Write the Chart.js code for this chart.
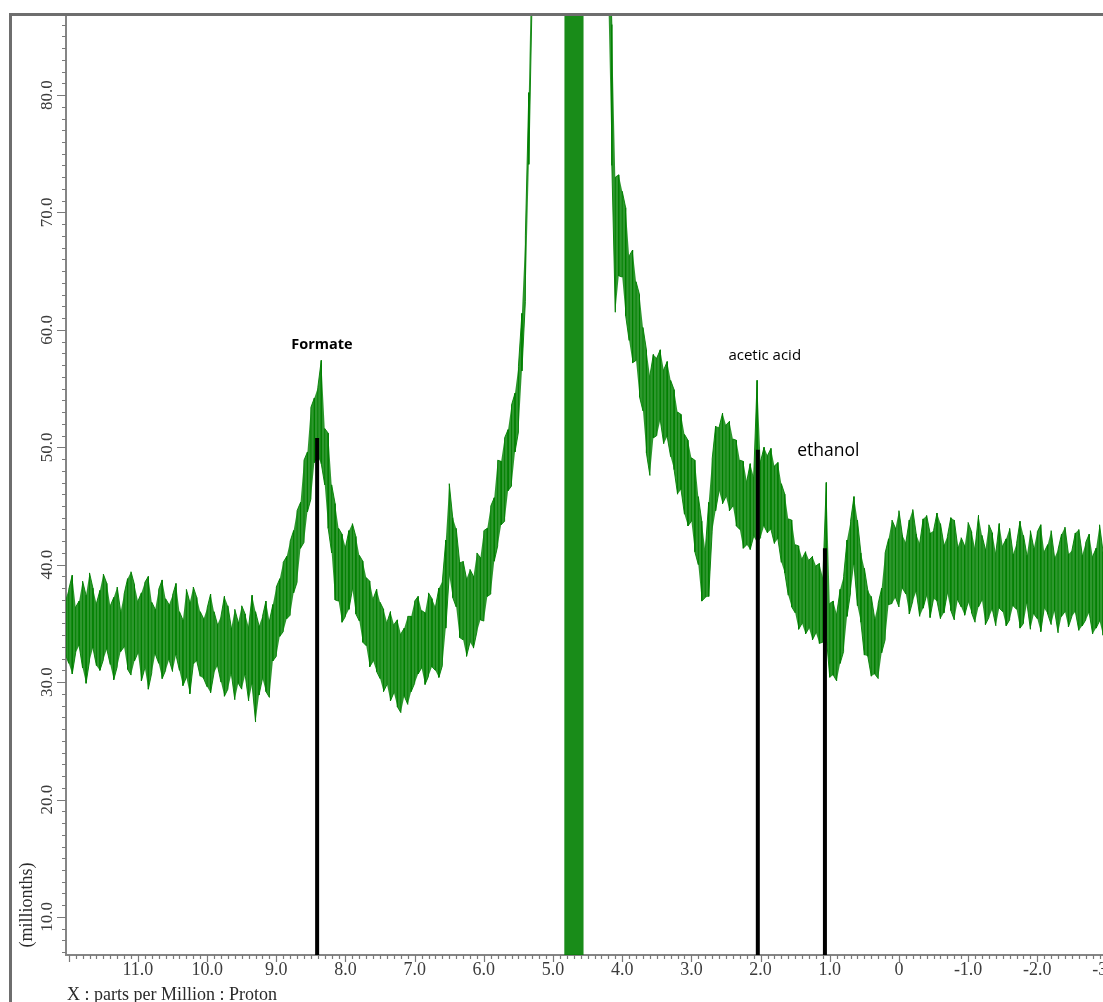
<!DOCTYPE html>
<html>
<head>
<meta charset="utf-8">
<script src="https://cdn.jsdelivr.net/npm/chart.js@4.4.1/dist/chart.umd.min.js"></script>
<style>
  html, body { margin: 0; padding: 0; background: #fff; overflow: hidden; }
  #wrap { position: relative; width: 1148px; height: 1002px; }
</style>
</head>
<body>
<div id="wrap"><canvas id="spectrum"></canvas></div>
<script>
// 1H trace binned every 0.05 ppm from 12.05 down to -3.60:
// highest and lowest reading in each bin (noise envelope)
var ppmStart = 12.05;
var ppmStep = 0.05;
var traceHigh = [
  37.0, 37.9, 39.1, 36.4, 36.9, 38.6, 37.4, 39.3, 38.0, 36.7,   // 12.05 .. 11.60
  37.8, 39.2, 38.4, 36.5, 37.2, 38.1, 36.0, 37.5, 38.8, 39.4,   // 11.55 .. 11.10
  38.3, 36.9, 37.6, 38.5, 39.0, 36.8, 36.2, 37.9, 38.7, 37.1,   // 11.05 .. 10.60
  36.6, 37.4, 38.4, 36.0, 35.3, 37.9, 36.8, 38.1, 37.2, 36.0,   // 10.55 .. 10.10
  35.4, 36.3, 37.5, 36.0, 34.9, 35.6, 37.3, 36.5, 34.6, 36.2,   // 10.05 .. 9.60
  35.1, 36.5, 35.8, 34.7, 37.4, 36.0, 34.8, 35.6, 36.9, 35.2,   // 9.55 .. 9.10
  36.6, 38.1, 38.8, 40.2, 40.7, 42.0, 42.9, 44.6, 45.3, 48.9,   // 9.05 .. 8.60
  49.6, 53.4, 54.2, 55.1, 57.4, 51.6, 51.2, 46.8, 45.2, 43.1,   // 8.55 .. 8.10
  42.6, 41.5, 42.9, 43.5, 42.4, 40.8, 40.3, 38.9, 38.6, 37.1,   // 8.05 .. 7.60
  37.9, 36.8, 36.2, 35.1, 36.0, 34.9, 35.3, 34.1, 34.6, 35.6,   // 7.55 .. 7.10
  35.6, 36.9, 37.3, 36.1, 35.9, 37.6, 37.1, 36.4, 38.0, 38.6,   // 7.05 .. 6.60
  42.1, 46.9, 44.0, 43.1, 40.2, 40.3, 38.8, 39.6, 39.0, 41.0,   // 6.55 .. 6.10
  40.6, 42.9, 43.1, 45.0, 45.7, 48.9, 48.8, 50.8, 51.5, 53.6,   // 6.05 .. 5.60
  54.6, 56.9, 61.4, 68.0, 80.2, 95, 118, 155, 205, 265,         // 5.55 .. 5.10
  330, 410, 490, 530, 570, 590, 570, 530, 490, 430,             // 5.05 .. 4.60
  370, 310, 250, 200, 160, 130, 110, 96, 86.0, 73.0,            // 4.55 .. 4.10
  73.2, 71.8, 70.4, 66.3, 66.8, 64.1, 63.0, 60.2, 58.3, 56.1,   // 4.05 .. 3.60
  57.9, 57.6, 58.3, 56.6, 57.3, 55.7, 54.9, 53.0, 52.8, 51.1,   // 3.55 .. 3.10
  50.6, 49.1, 48.9, 45.8, 43.7, 41.2, 45.3, 49.0, 51.8, 51.7,   // 3.05 .. 2.60
  52.9, 51.9, 52.2, 50.7, 50.6, 48.9, 48.8, 47.1, 48.6, 47.5,   // 2.55 .. 2.10
  55.7, 48.8, 50.0, 49.3, 49.9, 48.4, 48.7, 46.9, 46.0, 43.9,   // 2.05 .. 1.60
  43.8, 41.7, 41.6, 40.5, 41.1, 40.4, 40.7, 39.9, 40.1, 38.9,   // 1.55 .. 1.10
  47.0, 36.7, 36.9, 35.8, 37.9, 39.0, 42.1, 43.7, 45.8, 43.8,   // 1.05 .. 0.60
  41.0, 39.7, 37.8, 37.3, 35.4, 36.7, 38.0, 41.0, 42.2, 43.8,   // 0.55 .. 0.10
  43.1, 44.6, 42.5, 41.9, 43.8, 44.7, 42.6, 41.8, 43.9, 44.2,   // 0.05 .. -0.40
  42.7, 42.9, 44.4, 43.5, 41.7, 42.4, 44.0, 43.8, 41.5, 42.3,   // -0.45 .. -0.90
  41.6, 43.6, 42.8, 41.4, 44.2, 42.5, 41.3, 43.4, 42.7, 41.0,   // -0.95 .. -1.40
  43.5, 41.6, 42.2, 43.1, 40.9, 41.8, 43.7, 42.5, 40.8, 42.9,   // -1.45 .. -1.90
  41.4, 42.8, 43.4, 41.1, 41.7, 42.9, 40.6, 41.3, 42.6, 43.2,   // -1.95 .. -2.40
  40.9, 41.2, 42.7, 43.0, 40.8, 41.9, 42.6, 40.7, 41.4, 43.4,   // -2.45 .. -2.90
  41.1, 42.4, 43.2, 40.9, 41.5, 42.0, 43.0, 40.6, 41.7, 42.3,   // -2.95 .. -3.40
  41.0, 42.5, 41.2, 43.1                                        // -3.45 .. -3.60
];
var traceLow = [
  32.4, 31.6, 30.7, 32.5, 33.1, 31.2, 29.9, 31.8, 32.9, 31.4,   // 12.05 .. 11.60
  31.0, 31.9, 32.8, 31.5, 30.2, 31.3, 32.6, 33.0, 31.1, 30.6,   // 11.55 .. 11.10
  31.8, 32.5, 30.1, 31.2, 29.4, 30.8, 32.4, 31.6, 30.3, 31.0,   // 11.05 .. 10.60
  31.9, 30.9, 32.3, 31.0, 29.7, 30.4, 29.0, 31.5, 31.8, 30.5,   // 10.55 .. 10.10
  30.3, 29.6, 29.1, 30.8, 31.4, 30.0, 28.8, 29.4, 30.7, 28.5,   // 10.05 .. 9.60
  29.9, 29.4, 30.6, 28.4, 29.8, 26.6, 28.9, 30.3, 29.2, 28.7,   // 9.55 .. 9.10
  31.8, 32.2, 33.9, 34.3, 35.4, 35.7, 37.6, 38.5, 41.4, 41.9,   // 9.05 .. 8.60
  44.5, 45.6, 48.7, 49.2, 48.6, 46.8, 43.1, 41.0, 37.0, 36.9,   // 8.55 .. 8.10
  35.1, 35.6, 36.2, 37.9, 35.8, 35.2, 33.4, 33.1, 31.3, 31.8,   // 8.05 .. 7.60
  30.9, 30.3, 29.2, 29.8, 28.4, 29.1, 27.9, 27.4, 28.8, 28.1,   // 7.55 .. 7.10
  29.2, 29.9, 30.7, 31.2, 29.8, 30.5, 31.3, 31.0, 30.4, 31.4,   // 7.05 .. 6.60
  34.6, 39.1, 37.2, 36.4, 33.8, 33.6, 32.2, 33.4, 32.9, 34.3,   // 6.55 .. 6.10
  35.3, 35.2, 37.3, 37.5, 40.3, 41.6, 43.4, 43.7, 46.3, 46.7,   // 6.05 .. 5.60
  49.6, 51.3, 56.5, 62.4, 74.1, 89, 112, 145, 195, 255,         // 5.55 .. 5.10
  310, 390, 470, 510, 550, 570, 550, 510, 470, 410,             // 5.05 .. 4.60
  350, 290, 230, 180, 140, 120, 100, 88, 74.0, 61.5,            // 4.55 .. 4.10
  64.6, 64.5, 61.2, 59.1, 57.2, 57.4, 54.3, 53.1, 49.5, 47.6,   // 4.05 .. 3.60
  50.8, 51.0, 52.3, 50.3, 50.9, 49.2, 48.1, 46.0, 46.4, 44.3,   // 3.55 .. 3.10
  43.3, 43.7, 41.1, 40.0, 36.9, 37.2, 37.3, 42.8, 44.6, 46.3,   // 3.05 .. 2.60
  45.2, 45.8, 44.6, 45.0, 43.3, 43.0, 41.4, 41.7, 41.3, 42.4,   // 2.55 .. 2.10
  41.9, 42.3, 43.3, 42.7, 43.0, 41.8, 42.2, 40.2, 39.3, 37.4,   // 2.05 .. 1.60
  36.4, 35.9, 34.5, 35.0, 34.1, 34.6, 33.6, 34.2, 33.3, 33.4,   // 1.55 .. 1.10
  33.9, 30.4, 30.6, 30.1, 31.6, 32.6, 35.6, 37.6, 40.0, 36.5,   // 1.05 .. 0.60
  35.1, 32.3, 32.2, 30.5, 30.7, 30.3, 32.5, 33.6, 36.6, 36.7,   // 0.55 .. 0.10
  37.2, 36.4, 38.0, 37.5, 35.8, 36.9, 37.7, 35.6, 36.3, 37.4,   // 0.05 .. -0.40
  35.5, 37.1, 36.9, 35.4, 35.9, 37.6, 36.1, 35.3, 37.0, 36.4,   // -0.45 .. -0.90
  35.7, 36.8, 35.9, 35.1, 36.4, 37.0, 34.9, 35.5, 36.2, 34.8,   // -0.95 .. -1.40
  36.3, 36.0, 34.8, 35.3, 36.5, 36.2, 34.6, 35.0, 36.7, 34.5,   // -1.45 .. -1.90
  35.8, 35.4, 34.3, 36.3, 35.8, 34.9, 36.1, 34.2, 35.6, 36.0,   // -1.95 .. -2.40
  34.7, 35.6, 36.0, 34.4, 34.8, 35.3, 35.9, 34.1, 34.6, 35.2,   // -2.45 .. -2.90
  34.0, 34.9, 35.8, 36.1, 34.5, 35.0, 35.6, 34.3, 35.9, 34.7,   // -2.95 .. -3.40
  35.4, 35.3, 34.6, 35.8                                        // -3.45 .. -3.60
];

// water signal, saturated in both directions
var waterPpm = [4.83, 4.82, 4.81, 4.80, 4.79, 4.78, 4.77, 4.76, 4.75, 4.74, 4.73, 4.72, 4.71, 4.70,
                4.69, 4.68, 4.67, 4.66, 4.65, 4.64, 4.63, 4.62, 4.61, 4.60, 4.59, 4.58, 4.57];
var waterLevel = [-120, 240, -120, 240, -120, 240, -120, 240, -120, 240, -120, 240, -120, 240,
                  -120, 240, -120, 240, -120, 240, -120, 240, -120, 240, -120, 240, -120];

// assigned peaks
var markerNames = ['Formate', 'acetic acid', 'ethanol'];
var markerPpm = [8.41, 2.04, 1.07];
var markerTop = [50.8, 49.8, 41.4];

var xTickValues = [11, 10, 9, 8, 7, 6, 5, 4, 3, 2, 1, 0, -1, -2, -3];
var yTickValues = [10, 20, 30, 40, 50, 60, 70, 80];

var serif = '"Liberation Serif", "Times New Roman", serif';
var green = 'rgba(0, 128, 0, 0.9)';

function binPpm(i) { return +(ppmStart - i * ppmStep).toFixed(2); }

var highPoints = traceHigh.map(function (v, i) { return { x: binPpm(i), y: v }; });
var lowPoints = traceLow.map(function (v, i) { return { x: binPpm(i), y: v }; });
// min/max stroke through each bin, going down and up in turn
var strokePoints = [];
traceHigh.forEach(function (v, i) {
  var a = { x: binPpm(i), y: v }, b = { x: binPpm(i), y: traceLow[i] };
  if (i % 2 === 0) { strokePoints.push(a, b); } else { strokePoints.push(b, a); }
});
var waterPoints = waterPpm.map(function (p, i) { return { x: p, y: waterLevel[i] }; });

var datasets = markerPpm.map(function (p, i) {
  return {
    label: markerNames[i],
    data: [{ x: p, y: 0 }, { x: p, y: markerTop[i] }],
    borderColor: '#000',
    borderWidth: 4,
    borderCapStyle: 'butt',
    pointRadius: 0,
    order: 0
  };
});
datasets.push({
  label: 'water',
  data: waterPoints,
  borderColor: green,
  borderWidth: 1.5,
  pointRadius: 0,
  order: 1
});
datasets.push({
  label: 'bins',
  data: strokePoints,
  borderColor: 'rgba(0, 128, 0, 0.9)',
  borderWidth: 1,
  pointRadius: 0,
  order: 1
});
var highIndex = datasets.length;
datasets.push({
  label: 'high',
  data: highPoints,
  borderWidth: 0,
  pointRadius: 0,
  order: 2
});
datasets.push({
  label: 'low',
  data: lowPoints,
  backgroundColor: 'rgba(0, 128, 0, 0.82)',
  borderWidth: 0,
  pointRadius: 0,
  fill: highIndex,
  order: 2
});

// frame, minor ticks, rotated y labels, axis titles and peak names
var framePlugin = {
  id: 'frame',
  beforeDraw: function (c) {
    var ctx = c.ctx;
    ctx.save();
    ctx.fillStyle = '#fff';
    ctx.fillRect(0, 0, c.width, c.height);
    ctx.restore();
  },
  afterDraw: function (c) {
    var ctx = c.ctx, xs = c.scales.x, ys = c.scales.y, a = c.chartArea;
    ctx.save();

    // outer box
    ctx.strokeStyle = '#6e6e6e';
    ctx.lineWidth = 3;
    ctx.beginPath();
    ctx.moveTo(10.5, c.height);
    ctx.lineTo(10.5, 14.5);
    ctx.lineTo(c.width, 14.5);
    ctx.stroke();

    // ticks
    ctx.strokeStyle = '#7a7a7a';
    ctx.lineWidth = 1.2;
    ctx.beginPath();
    for (var k = -36; k <= 120; k++) {
      var px = Math.round(xs.getPixelForValue(k / 10)) + 0.5;
      var lx = (k % 10 === 0) ? 7 : 4;
      ctx.moveTo(px, a.bottom);
      ctx.lineTo(px, a.bottom + lx);
    }
    for (var m = 7; m <= 86; m++) {
      var py = Math.round(ys.getPixelForValue(m)) + 0.5;
      var ly = (m % 10 === 0) ? 9 : 4;
      ctx.moveTo(a.left - ly, py);
      ctx.lineTo(a.left, py);
    }
    ctx.stroke();

    // y tick labels, reading upwards
    ctx.fillStyle = '#3c3c3c';
    ctx.font = '17px ' + serif;
    ctx.textAlign = 'center';
    ctx.textBaseline = 'middle';
    ys.ticks.forEach(function (t) {
      ctx.save();
      ctx.translate(48, ys.getPixelForValue(t.value));
      ctx.rotate(-Math.PI / 2);
      ctx.fillText(t.value.toFixed(1), 0, 0);
      ctx.restore();
    });

    // axis titles
    ctx.fillStyle = '#2a2a2a';
    ctx.font = '18px ' + serif;
    ctx.save();
    ctx.translate(27, 905);
    ctx.rotate(-Math.PI / 2);
    ctx.fillText('(millionths)', 0, 0);
    ctx.restore();
    ctx.textAlign = 'left';
    ctx.textBaseline = 'alphabetic';
    ctx.fillText('X : parts per Million : Proton', 67, 1000);

    // peak names
    ctx.fillStyle = '#000';
    ctx.textBaseline = 'middle';
    ctx.textAlign = 'center';
    ctx.font = 'bold 14.5px "Open Sans", sans-serif';
    ctx.fillText(markerNames[0], xs.getPixelForValue(8.34), ys.getPixelForValue(58.7));
    ctx.font = '15px "Open Sans", sans-serif';
    ctx.fillText(markerNames[1], xs.getPixelForValue(1.94), ys.getPixelForValue(57.8));
    ctx.textAlign = 'left';
    ctx.font = '17.5px "Open Sans", sans-serif';
    ctx.fillText(markerNames[2], xs.getPixelForValue(1.47), ys.getPixelForValue(49.7));

    ctx.restore();
  }
};

new Chart(document.getElementById('spectrum'), {
  type: 'line',
  data: { datasets: datasets },
  options: {
    responsive: true,
    maintainAspectRatio: false,
    animation: false,
    layout: { padding: { top: 14, left: 0, right: 0, bottom: 0 } },
    plugins: { legend: { display: false }, tooltip: { enabled: false } },
    elements: { line: { tension: 0 } },
    scales: {
      x: {
        type: 'linear',
        reverse: true,
        min: -3.6,
        max: 12.04,
        afterBuildTicks: function (s) {
          s.ticks = xTickValues.map(function (v) { return { value: v }; });
        },
        afterFit: function (s) { s.height = 47; },
        grid: { display: true, drawOnChartArea: false, drawTicks: false },
        border: { display: true, color: '#858585', width: 2 },
        ticks: {
          autoSkip: false,
          maxRotation: 0,
          padding: 4,
          color: '#3c3c3c',
          font: { family: serif, size: 18 },
          callback: function (v) { return v === 0 ? '0' : v.toFixed(1); }
        }
      },
      y: {
        type: 'linear',
        min: 6.76,
        max: 86.9,
        afterBuildTicks: function (s) {
          s.ticks = yTickValues.map(function (v) { return { value: v }; });
        },
        afterFit: function (s) { s.width = 66; },
        grid: { display: true, drawOnChartArea: false, drawTicks: false },
        border: { display: true, color: '#858585', width: 2 },
        ticks: { display: false }
      }
    }
  },
  plugins: [framePlugin]
});
</script>
</body>
</html>
